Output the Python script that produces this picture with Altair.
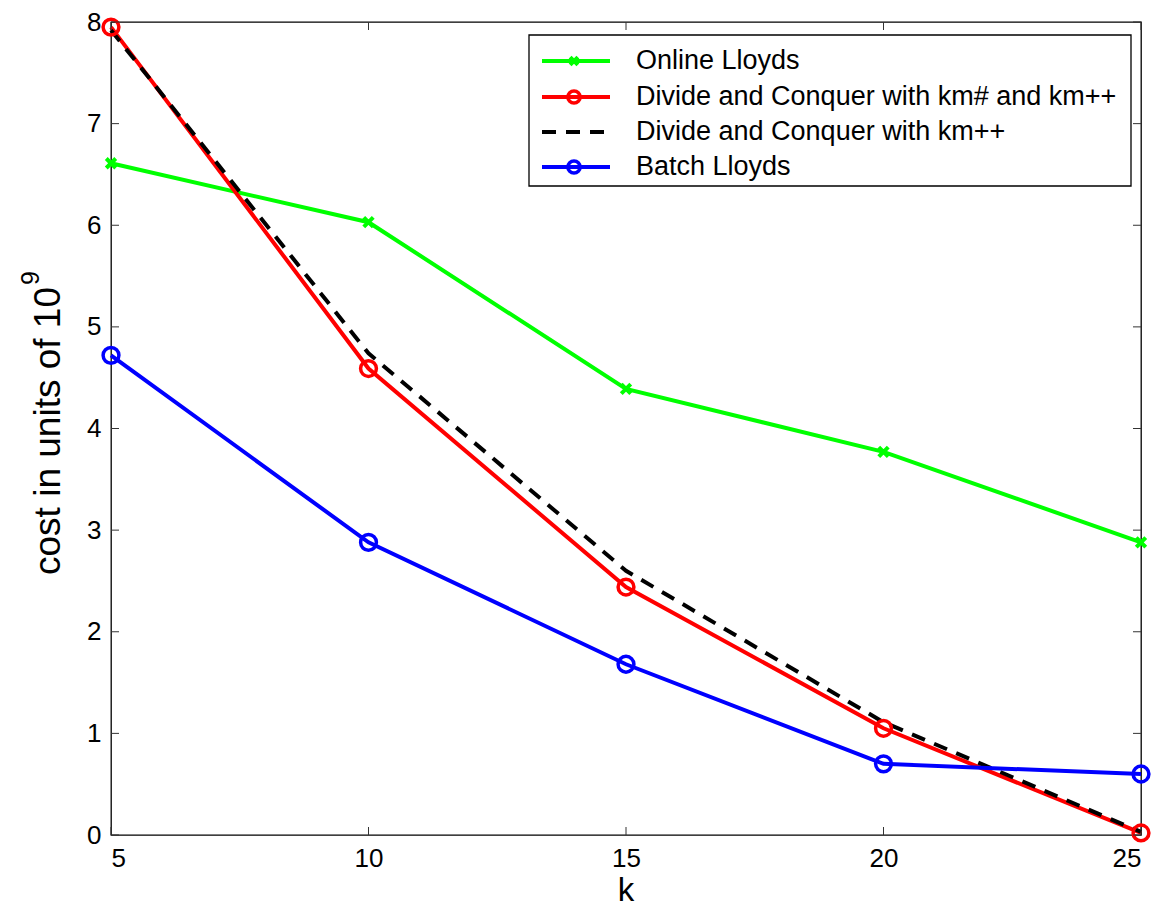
import altair as alt
import pandas as pd

# ---- data ----
k_values = [5, 10, 15, 20, 25]
online_lloyds = [6.61, 6.03, 4.39, 3.77, 2.88]
dc_kmsharp_kmpp = [7.95, 4.59, 2.44, 1.05, 0.02]
dc_kmpp = [7.92, 4.74, 2.60, 1.11, 0.03]
batch_lloyds = [4.72, 2.88, 1.68, 0.70, 0.60]

x_ticks = [5, 10, 15, 20, 25]
y_ticks = [0, 1, 2, 3, 4, 5, 6, 7, 8]

series_names = [
    "Online Lloyds",
    "Divide and Conquer with km# and km++",
    "Divide and Conquer with km++",
    "Batch Lloyds",
]
x_title = "k"
y_title_main = "cost in units of 10"
y_title_sup = "9"

W, H = 1030, 813
FONT = "Liberation Sans"

rows = []
for name, vals in zip(series_names, [online_lloyds, dc_kmsharp_kmpp, dc_kmpp, batch_lloyds]):
    for k, v in zip(k_values, vals):
        rows.append({"k": k, "cost": v, "series": name})
df = pd.DataFrame(rows)

xscale = alt.Scale(domain=[5, 25], nice=False, zero=False)
yscale = alt.Scale(domain=[0, 8], nice=False)

xaxis = alt.Axis(values=x_ticks, ticks=False, domain=False, grid=False, format="d",
                 labelFontSize=26, labelFont=FONT, labelColor="black", labelPadding=10,
                 title=None)
yaxis = alt.Axis(values=y_ticks, ticks=False, domain=False, grid=False, format="d",
                 labelFontSize=26, labelFont=FONT, labelColor="black", labelPadding=10,
                 title=None)

base = alt.Chart(df)

def sel(name):
    return base.transform_filter(alt.datum.series == name)

X = alt.X("k:Q", scale=xscale, axis=xaxis)
Y = alt.Y("cost:Q", scale=yscale, axis=yaxis)

xshape = "M-1,-1L1,1M1,-1L-1,1"

green_line = sel(series_names[0]).mark_line(color="#00ff00", strokeWidth=4).encode(x=X, y=Y)
green_pts = sel(series_names[0]).mark_point(shape=xshape, filled=False, color="#00ff00",
                                            strokeWidth=4, size=90, opacity=1).encode(x=X, y=Y)
red_line = sel(series_names[1]).mark_line(color="#ff0000", strokeWidth=4).encode(x=X, y=Y)
red_pts = sel(series_names[1]).mark_point(shape="circle", filled=False, color="#ff0000",
                                          strokeWidth=3.5, size=250, opacity=1).encode(x=X, y=Y)
black_line = sel(series_names[2]).mark_line(color="black", strokeWidth=4,
                                            strokeDash=[14, 10]).encode(x=X, y=Y)
blue_line = sel(series_names[3]).mark_line(color="#0000ff", strokeWidth=4).encode(x=X, y=Y)
blue_pts = sel(series_names[3]).mark_point(shape="circle", filled=False, color="#0000ff",
                                           strokeWidth=3.5, size=250, opacity=1).encode(x=X, y=Y)

# inward tick marks on all four sides (same fields/axes so axes merge)
xt = alt.Chart(pd.DataFrame({"k": x_ticks}))
yt = alt.Chart(pd.DataFrame({"cost": y_ticks}))
TL = 8
tick_style = dict(color="#333333", strokeWidth=1)
ticks_bottom = xt.mark_rule(**tick_style).encode(
    x=alt.X("k:Q", scale=xscale, axis=xaxis), y=alt.value(H - TL), y2=alt.value(H))
ticks_top = xt.mark_rule(**tick_style).encode(
    x=alt.X("k:Q", scale=xscale, axis=xaxis), y=alt.value(0), y2=alt.value(TL))
ticks_left = yt.mark_rule(**tick_style).encode(
    y=alt.Y("cost:Q", scale=yscale, axis=yaxis), x=alt.value(0), x2=alt.value(TL))
ticks_right = yt.mark_rule(**tick_style).encode(
    y=alt.Y("cost:Q", scale=yscale, axis=yaxis), x=alt.value(W - TL), x2=alt.value(W))

one = alt.Chart(pd.DataFrame({"a": [0]}))

# axis titles (MATLAB style, with superscript exponent)
xtitle = one.mark_text(fontSize=33, font=FONT, color="black", align="center",
                       baseline="alphabetic").encode(
    x=alt.value(W / 2), y=alt.value(879), text=alt.value(x_title))
ytitle = one.mark_text(fontSize=37, font=FONT, color="black", align="right",
                       baseline="middle", angle=270).encode(
    x=alt.value(-62), y=alt.value(265), text=alt.value(y_title_main))
ytitle_sup = one.mark_text(fontSize=25, font=FONT, color="black", align="left",
                           baseline="middle", angle=270).encode(
    x=alt.value(-80), y=alt.value(263), text=alt.value(y_title_sup))

# legend (manual, MATLAB style)
LX0, LX1, LY0, LY1 = 418, 1020, 13, 164
legend_box = one.mark_rect(fill="white", stroke="black", strokeWidth=1.3).encode(
    x=alt.value(LX0), x2=alt.value(LX1), y=alt.value(LY0), y2=alt.value(LY1))

legend_layers = [legend_box]
row_y = [39, 75, 110, 145]
line_styles = [
    dict(color="#00ff00", strokeWidth=4),
    dict(color="#ff0000", strokeWidth=4),
    dict(color="black", strokeWidth=4, strokeDash=[14, 10]),
    dict(color="#0000ff", strokeWidth=4),
]
marker_styles = [
    dict(shape=xshape, filled=False, color="#00ff00", strokeWidth=4, size=60, opacity=1),
    dict(shape="circle", filled=False, color="#ff0000", strokeWidth=3.5, size=150, opacity=1),
    None,
    dict(shape="circle", filled=False, color="#0000ff", strokeWidth=3.5, size=150, opacity=1),
]
for name, ry, ls, ms in zip(series_names, row_y, line_styles, marker_styles):
    legend_layers.append(one.mark_rule(**ls).encode(
        x=alt.value(431), x2=alt.value(499), y=alt.value(ry)))
    if ms is not None:
        legend_layers.append(one.mark_point(**ms).encode(x=alt.value(463), y=alt.value(ry)))
    legend_layers.append(one.mark_text(align="left", baseline="middle", fontSize=27,
                                       font=FONT, color="black").encode(
        x=alt.value(525), y=alt.value(ry), text=alt.value(name)))

chart = alt.layer(
    green_line, green_pts, red_line, black_line, red_pts, blue_line, blue_pts,
    ticks_bottom, ticks_top, ticks_left, ticks_right,
    xtitle, ytitle, ytitle_sup,
    *legend_layers,
).properties(
    width=W, height=H,
    autosize=alt.AutoSizeParams(type="none"),
    padding={"left": 103, "top": 14, "right": 16, "bottom": 90},
    background="white",
).configure_view(
    stroke="black", strokeWidth=1.3
)

chart.save("out.html", embed_options={"renderer": "svg", "actions": False})
